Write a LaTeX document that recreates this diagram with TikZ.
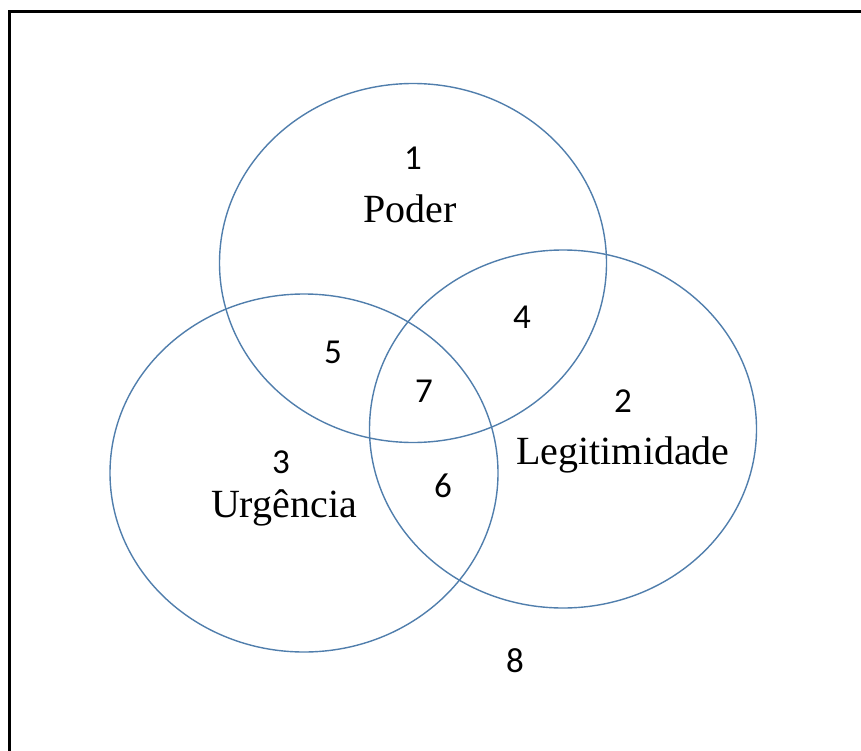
\documentclass[tikz,border=0pt]{standalone}
\usepackage{fontspec}
\setmainfont{Liberation Serif}
\newfontfamily\numfont{Carlito}
\definecolor{ringblue}{RGB}{80,126,172}
\begin{document}
\begin{tikzpicture}[x=1pt,y=-1pt,
  ring/.style={draw=ringblue,line width=1.4pt},
  num/.style={anchor=base,inner sep=0pt,font=\numfont\fontsize{35}{40}\selectfont},
  lbl/.style={anchor=base,inner sep=0pt,font=\fontsize{40}{46}\selectfont}]
\useasboundingbox (0,0) rectangle (861,751);
\begin{scope}
  \clip (0,0) rectangle (861,751);
  \draw[line width=3pt] (9.5,760) -- (9.5,12) -- (870,12);
\end{scope}
% the three circles
\draw[ring] (413,263) ellipse [x radius=193.5, y radius=179.5];
\draw[ring] (563,429) ellipse [x radius=193.5, y radius=179];
\draw[ring] (304,473) ellipse [x radius=194, y radius=179];
% region numbers and names
\node[num] (n1) at (413,170) {1};
\node[lbl] (poder) at (410,223) {Poder};
\node[num] (n2) at (623,412) {2};
\node[lbl] (legit) at (623,464) {Legitimidade};
\node[num] (n3) at (281,473) {3};
\node[lbl] (urg) at (284,517) {Urgência};
\node[num] (n4) at (522,328) {4};
\node[num] (n5) at (333,363) {5};
\node[num] (n6) at (443,497) {6};
\node[num] (n7) at (424,402) {7};
\node[num] (n8) at (515,672) {8};
\end{tikzpicture}
\end{document}
